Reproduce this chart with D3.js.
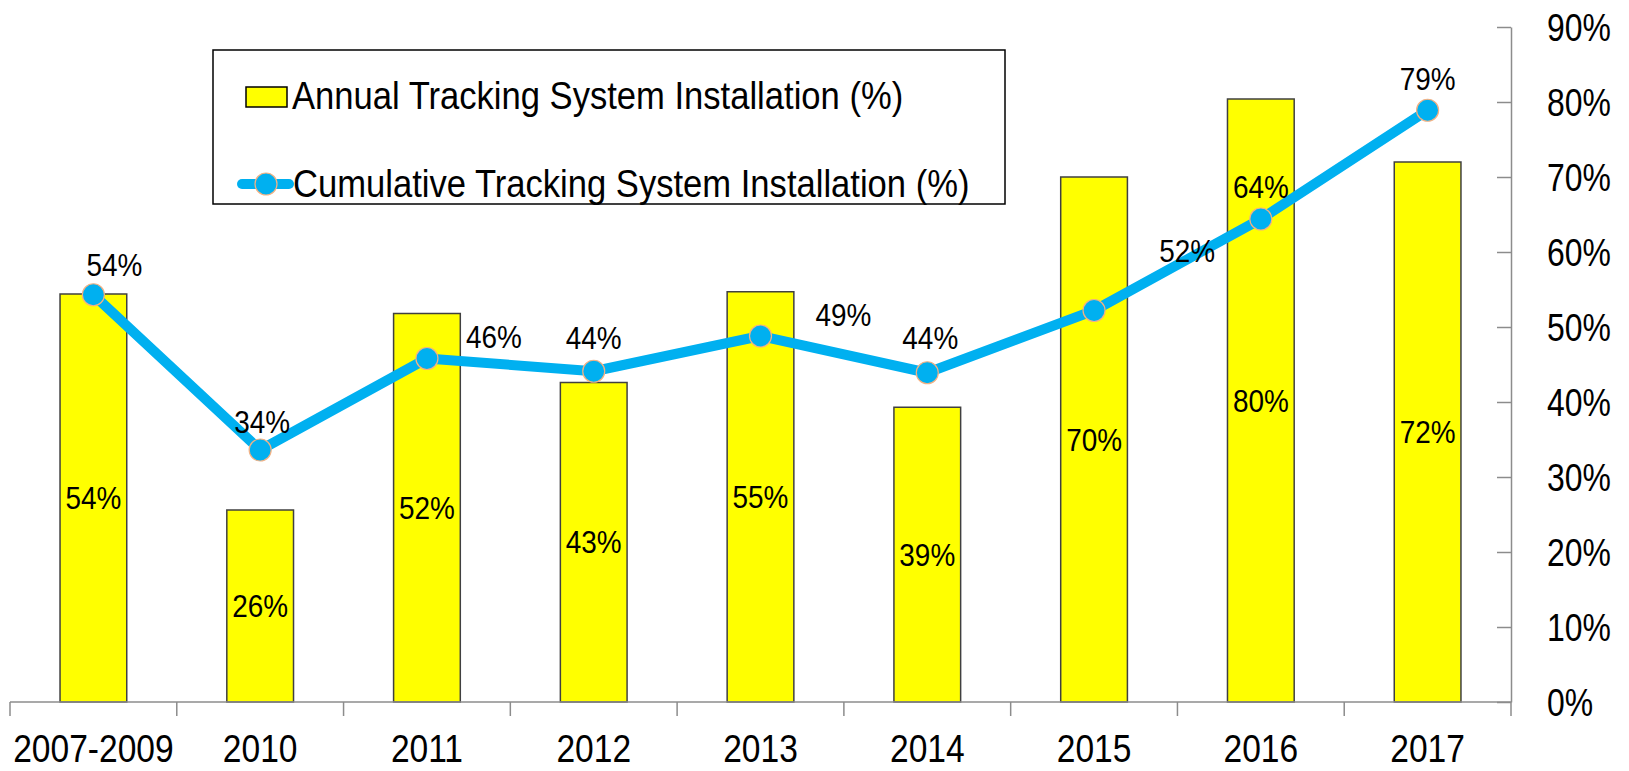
<!DOCTYPE html>
<html>
<head>
<meta charset="utf-8">
<script src="https://cdn.jsdelivr.net/npm/d3@7"></script>
<style>
  html, body { margin: 0; padding: 0; background: #fff; }
  svg { display: block; }
  text { font-family: "Liberation Sans", Arial, sans-serif; fill: #000; }
</style>
</head>
<body>
<svg id="chart" width="1629" height="771"></svg>
<script>
// ---- data ----
const categories = ["2007-2009", "2010", "2011", "2012", "2013", "2014", "2015", "2016", "2017"];
const annualValues = [54.4, 25.6, 51.8, 42.6, 54.7, 39.3, 70.0, 80.4, 72.0];
const cumulativeValues = [54.3, 33.6, 45.8, 44.1, 48.8, 43.9, 52.2, 64.4, 78.9];
const yTicks = [0, 10, 20, 30, 40, 50, 60, 70, 80, 90];
const seriesNames = ["Annual Tracking System Installation (%)", "Cumulative Tracking System Installation (%)"];
// label offsets for cumulative labels (dx, dy) in px
const cumLabelOffsets = [[21, -30], [2, -28], [67, -22], [0, -33], [83, -21], [3, -35], [93, -60], [0, -32], [0, -31]];

// ---- layout ----
const svg = d3.select("#chart");
const plotLeft = 10, plotRight = 1511, plotTop = 27, plotBottom = 702;
const fmt = v => Math.round(v) + "%";

// condense text horizontally (Arial Narrow look) while keeping it real text
function narrow(sel, f) {
  sel.each(function () {
    const w = this.getComputedTextLength();
    d3.select(this).attr("textLength", w * f).attr("lengthAdjust", "spacingAndGlyphs");
  });
}

const x = d3.scaleBand().domain(categories).range([plotLeft, plotRight]).paddingInner(0).paddingOuter(0);
const y = d3.scaleLinear().domain([0, 90]).range([plotBottom, plotTop]);
const barW = x.bandwidth() * 0.40;
const cx = i => x(categories[i]) + x.bandwidth() / 2;

// bars
svg.append("g").selectAll("rect").data(annualValues).join("rect")
  .attr("x", (d, i) => cx(i) - barW / 2)
  .attr("y", d => y(d))
  .attr("width", barW)
  .attr("height", d => y(0) - y(d))
  .attr("fill", "#ffff00")
  .attr("stroke", "#404040")
  .attr("stroke-width", 1.5);

// bar labels
const barLabels = svg.append("g").selectAll("text").data(annualValues).join("text")
  .attr("x", (d, i) => cx(i))
  .attr("y", d => (y(d) + y(0)) / 2)
  .attr("dy", "0.36em")
  .attr("text-anchor", "middle")
  .style("font-size", "31px")
  .text(fmt);
narrow(barLabels, 0.9);

// bottom axis line + boundary ticks
const axisColor = "#8c8c8c";
svg.append("line").attr("x1", plotLeft).attr("x2", plotRight).attr("y1", y(0)).attr("y2", y(0))
  .attr("stroke", axisColor).attr("stroke-width", 1.5);
const boundaries = categories.map(c => x(c)).concat([plotRight]);
svg.append("g").selectAll("line").data(boundaries).join("line")
  .attr("x1", d => d).attr("x2", d => d)
  .attr("y1", y(0)).attr("y2", y(0) + 14)
  .attr("stroke", axisColor).attr("stroke-width", 1.5);

// category labels
const xAxis = svg.append("g").attr("transform", `translate(0,${y(0)})`)
  .call(d3.axisBottom(x).tickSize(0).tickPadding(32));
xAxis.select(".domain").remove();
xAxis.attr("font-family", null).attr("font-size", null);
xAxis.selectAll("text").style("font-size", "39px").attr("fill", "#000");
narrow(xAxis.selectAll("text"), 0.86);

// right axis
const yAxis = svg.append("g").attr("transform", `translate(${plotRight},0)`)
  .call(d3.axisRight(y).tickValues(yTicks).tickFormat(d => d + "%").tickSizeInner(-14).tickSizeOuter(0).tickPadding(36));
yAxis.attr("font-family", null).attr("font-size", null);
yAxis.select(".domain").attr("stroke", axisColor).attr("stroke-width", 1.5);
yAxis.selectAll(".tick line").attr("stroke", axisColor).attr("stroke-width", 1.5);
yAxis.selectAll("text").style("font-size", "38px").attr("fill", "#000").attr("dy", "0.36em");
narrow(yAxis.selectAll("text"), 0.84);

// cumulative line
const lineColor = "#00b0f0";
const line = d3.line().x((d, i) => cx(i)).y(d => y(d));
svg.append("path").datum(cumulativeValues)
  .attr("d", line).attr("fill", "none").attr("stroke", lineColor)
  .attr("stroke-width", 10).attr("stroke-linejoin", "round");
svg.append("g").selectAll("circle").data(cumulativeValues).join("circle")
  .attr("cx", (d, i) => cx(i))
  .attr("cy", d => y(d))
  .attr("r", 11)
  .attr("fill", lineColor)
  .attr("stroke", "#f4b183").attr("stroke-width", 1.2);
const cumLabels = svg.append("g").selectAll("text").data(cumulativeValues).join("text")
  .attr("x", (d, i) => cx(i) + cumLabelOffsets[i][0])
  .attr("y", (d, i) => y(d) + cumLabelOffsets[i][1])
  .attr("dy", "0.36em")
  .attr("text-anchor", "middle")
  .style("font-size", "31px")
  .text(fmt);
narrow(cumLabels, 0.9);

// legend
const lg = svg.append("g");
lg.append("rect").attr("x", 213).attr("y", 50).attr("width", 792).attr("height", 154)
  .attr("fill", "#fff").attr("stroke", "#000").attr("stroke-width", 1.5);
lg.append("rect").attr("x", 246).attr("y", 87).attr("width", 41).attr("height", 20)
  .attr("fill", "#ffff00").attr("stroke", "#000").attr("stroke-width", 1.5);
const lt1 = lg.append("text").attr("x", 292).attr("y", 109)
  .style("font-size", "38px").text(seriesNames[0]);
lg.append("line").attr("x1", 242).attr("x2", 289).attr("y1", 184).attr("y2", 184)
  .attr("stroke", lineColor).attr("stroke-width", 10).attr("stroke-linecap", "round");
lg.append("circle").attr("cx", 266).attr("cy", 184).attr("r", 11)
  .attr("fill", lineColor).attr("stroke", "#f4b183").attr("stroke-width", 1.2);
const lt2 = lg.append("text").attr("x", 293).attr("y", 197)
  .style("font-size", "38px").text(seriesNames[1]);
narrow(lt1, 0.91);
narrow(lt2, 0.91);
</script>
</body>
</html>
